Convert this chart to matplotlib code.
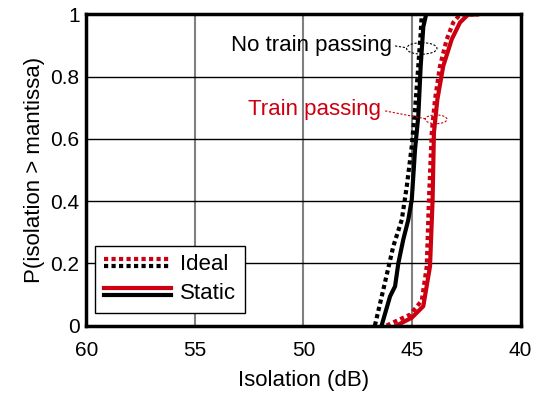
import matplotlib.pyplot as plt
from matplotlib.legend_handler import HandlerBase
from matplotlib.lines import Line2D
from matplotlib.patches import Ellipse

plt.rcParams["font.family"] = ["Liberation Sans", "DejaVu Sans"]

# isolation (dB) vs P(isolation > mantissa)
ideal_quiet_db = [46.71, 46.32, 45.86, 45.47, 45.24, 45.01, 44.86, 44.71, 44.60, 44.55]
ideal_quiet_p = [0.0, 0.116, 0.255, 0.34, 0.448, 0.577, 0.695, 0.834, 0.94, 1.0]

static_quiet_db = [46.40, 46.01, 45.78, 45.63, 45.40, 45.17, 45.01, 44.86, 44.71, 44.60, 44.48, 44.35]
static_quiet_p = [0.0, 0.094, 0.126, 0.2, 0.277, 0.34, 0.405, 0.566, 0.673, 0.834, 0.96, 1.0]

ideal_train_db = [46.17, 45.09, 44.55, 44.32, 44.22, 44.09, 43.94, 43.71, 43.40, 43.10, 42.79, 42.0]
ideal_train_p = [0.0, 0.035, 0.08, 0.19, 0.405, 0.62, 0.727, 0.834, 0.92, 0.974, 1.0, 1.0]

static_train_db = [45.71, 45.01, 44.48, 44.17, 44.05, 43.99, 43.83, 43.56, 43.17, 42.79, 42.41, 42.0]
static_train_p = [0.0, 0.025, 0.062, 0.19, 0.405, 0.62, 0.727, 0.834, 0.92, 0.974, 1.0, 1.0]

x_ticks = [60, 55, 50, 45, 40]
y_ticks = [0, 0.2, 0.4, 0.6, 0.8, 1]
y_tick_labels = ["0", "0.2", "0.4", "0.6", "0.8", "1"]

red = "#cc0010"
dots = (0, (1, 0.8))


class StackedHandler(HandlerBase):
    def __init__(self, style):
        super().__init__()
        self.style = style

    def create_artists(self, legend, orig_handle, xdescent, ydescent,
                       width, height, fontsize, trans):
        y = height / 2 - ydescent
        top = Line2D([0, width], [y + 2.5, y + 2.5], color=red, lw=3,
                     linestyle=self.style, transform=trans)
        bottom = Line2D([0, width], [y - 2.5, y - 2.5], color="black", lw=3,
                        linestyle=self.style, transform=trans)
        return [top, bottom]


fig = plt.figure(figsize=(5.46, 3.96), dpi=100)
ax = fig.add_axes([0.1584, 0.178, 0.7949, 0.7854])

for x in x_ticks[1:-1]:
    ax.axvline(x, color="#808080", lw=1.5, zorder=1)
for y in y_ticks[1:-1]:
    ax.axhline(y, color="black", lw=1, zorder=1)

ax.plot(static_quiet_db, static_quiet_p, color="black", lw=3, zorder=3)
ax.plot(ideal_quiet_db, ideal_quiet_p, color="black", lw=3, linestyle=dots, zorder=3)
ax.plot(static_train_db, static_train_p, color=red, lw=3, zorder=3)
ax.plot(ideal_train_db, ideal_train_p, color=red, lw=3, linestyle=dots, zorder=3)

ax.set_xlim(60, 40)
ax.set_ylim(0, 1)
ax.set_xticks(x_ticks)
ax.set_yticks(y_ticks)
ax.set_yticklabels(y_tick_labels)
ax.tick_params(length=0, labelsize=15)
ax.tick_params(axis="x", pad=11)
ax.tick_params(axis="y", pad=5)
for s in ax.spines.values():
    s.set_linewidth(2.5)
    s.set_zorder(5)

ax.set_xlabel("Isolation (dB)", fontsize=16, labelpad=7)
ax.set_ylabel("P(isolation > mantissa)", fontsize=16, labelpad=4)

# annotations
ax.add_patch(Ellipse((44.55, 0.891), 1.4, 0.037, fill=False, ec="black",
                     lw=0.8, linestyle=(0, (2, 1.5)), zorder=4))
ax.plot([45.78, 45.25], [0.899, 0.893], color="black", lw=0.8,
        linestyle=(0, (2, 1.5)), zorder=4)
ax.text(45.92, 0.899, "No train passing", fontsize=16, ha="right", va="center")

ax.add_patch(Ellipse((43.89, 0.663), 1.0, 0.028, fill=False, ec=red,
                     lw=0.8, linestyle=(0, (2, 1.5)), zorder=4))
ax.plot([46.24, 44.39], [0.69, 0.665], color=red, lw=0.8,
        linestyle=(0, (2, 1.5)), zorder=4)
ax.text(46.43, 0.693, "Train passing", fontsize=16, ha="right", va="center", color=red)

h_ideal = Line2D([], [])
h_static = Line2D([], [])
leg = ax.legend(
    [h_ideal, h_static], ["Ideal", "Static"],
    handler_map={h_ideal: StackedHandler(dots), h_static: StackedHandler("-")},
    loc="lower left", bbox_to_anchor=(0.02, 0.04), borderaxespad=0,
    fontsize=16, handlelength=3.0, handletextpad=0.4, labelspacing=0.35,
    fancybox=False, framealpha=1, edgecolor="black", borderpad=0.4,
)
leg.get_frame().set_linewidth(1)
leg.set_zorder(6)

fig.savefig("out.png", dpi=100)
